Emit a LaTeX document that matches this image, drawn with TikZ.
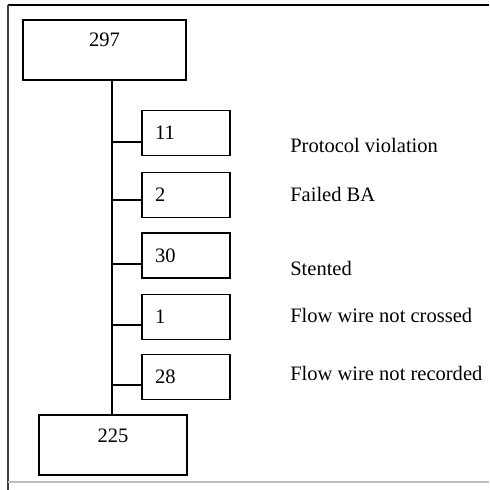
\documentclass[tikz,border=0pt]{standalone}
\usepackage{fontspec}
\setmainfont{Liberation Serif}
\usetikzlibrary{positioning,calc}

\begin{document}
\begin{tikzpicture}[
  font=\fontsize{14.6}{17}\selectfont,
  bigbox/.style={rectangle, draw, line width=1.2pt, text height=0.35cm, text depth=0.5cm, inner ysep=0.325cm, align=center},
  smallbox/.style={rectangle, draw, line width=1.2pt, minimum height=1.125cm, text width=1.55cm, inner xsep=0.325cm, align=left},
  reason/.style={anchor=base west, inner sep=0pt},
  link/.style={line width=1.3pt}
]
\useasboundingbox (0,0) rectangle (12.225,-12.25);

% Frame
\draw[line width=1.5pt] (0.2,-0.125) -- (12.225,-0.125);
\draw[line width=0.8pt, black!75] (0.2,-0.125) -- (0.2,-12.25);
\draw[line width=0.8pt, black!25] (0.2,-12.05) -- (12.225,-12.05);

% Start and end
\node[bigbox, minimum width=4.075cm] (n297) at (2.6125, -1.25) {297};
\node[bigbox, minimum width=3.7cm] (n225) at (2.825, -11.125) {225};
\coordinate (spine) at (2.8, 0);
\draw[link] (n297.south -| spine) -- (n225.north -| spine);

% Exclusions
\node[smallbox] (b11) at (4.65, -3.325) {11};
\node[smallbox] (b2) at (4.65, -4.875) {2};
\node[smallbox] (b30) at (4.65, -6.39) {30};
\node[smallbox] (b1) at (4.65, -7.925) {1};
\node[smallbox] (b28) at (4.65, -9.425) {28};
\foreach \b/\dy in {b11/-0.225, b2/-0.125, b30/-0.2, b1/-0.2, b28/-0.2}
  \draw[link] ($(\b.west -| spine)+(0,\dy)$) -- ($(\b.west)+(0,\dy)$);

% Reasons
\node[reason] (r11) at (7.25, -3.825) {Protocol violation};
\node[reason] (r2) at (7.25, -5.05) {Failed BA};
\node[reason] (r30) at (7.25, -6.875) {Stented};
\node[reason] (r1) at (7.25, -8.05) {Flow wire not crossed};
\node[reason] (r28) at (7.25, -9.5) {Flow wire not recorded};

\end{tikzpicture}
\end{document}
